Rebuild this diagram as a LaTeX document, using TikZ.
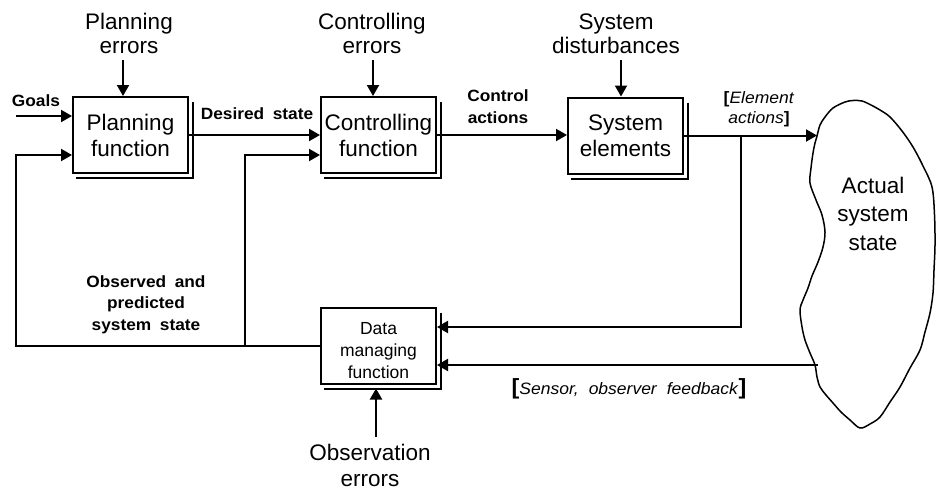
\documentclass[tikz,border=0pt]{standalone}
\usepackage{fontspec}
\setmainfont{Liberation Sans}
\newfontfamily\lblfont[FakeStretch=1.06,WordSpace=1.8]{Liberation Sans}
\usetikzlibrary{arrows.meta,calc}

\begin{document}
\begin{tikzpicture}[x=1pt,y=-1pt,line width=2pt,
  fn/.style={draw,fill=white,minimum width=115pt,minimum height=76pt,inner sep=0pt,
    align=center,font=\fontsize{22.5}{26}\selectfont},
  lbl/.style={align=center,inner sep=0pt,font=\fontsize{22.5}{24}\selectfont},
  tag/.style={align=center,inner sep=0pt,font=\lblfont\fontsize{16.3}{21.5}\selectfont\bfseries},
  note/.style={align=center,inner sep=0pt,font=\lblfont\fontsize{16.5}{20}\selectfont},
  arr/.style={-{Triangle[length=11pt,width=12pt]}}]

\fill[white] (0,0) rectangle (936,493);
\useasboundingbox (0,0) rectangle (936,493);

% function boxes
\node[fn] (plan) at (130.5,135) {Planning\\function};
\node[fn] (ctrl) at (378.5,135) {Controlling\\function};
\node[fn] (sys)  at (625.5,135.5) {System\\elements};
\node[fn,font=\fontsize{17.5}{22}\selectfont] (data) at (378.5,345.5)
  {\rule{0pt}{23pt}Data\\managing\\function};

% double edge on the right and bottom of each box
\foreach \n in {plan,ctrl,sys,data}{
  \draw ([xshift=4pt,yshift=-6pt]\n.north east) -- ([xshift=4pt,yshift=-4pt]\n.south east)
        -- ([xshift=4pt,yshift=-4pt]\n.south west);
}

% disturbance inputs (base = baseline of the last line)
\node[lbl,anchor=base] (perr) at (129,53) {Planning\\errors};
\node[lbl,anchor=base] (cerr) at (372,53) {Controlling\\errors};
\node[lbl,anchor=base] (sdis) at (616,53) {System\\disturbances};
\coordinate (pin) at ([xshift=-7.5pt]plan.north);
\coordinate (cin) at ([xshift=-5.5pt]ctrl.north);
\coordinate (sin) at ([xshift=-4.5pt]sys.north);
\draw[arr] (pin |- perr.south) ++(0,6) -- (pin);
\draw[arr] (cin |- cerr.south) ++(0,6) -- (cin);
\draw[arr] (sin |- sdis.south) ++(0,6) -- (sin);

% goals
\node[tag,anchor=base west] (goals) at (11,106) {Goals};
\coordinate (gsrc) at (16,116);
\draw[arr] (gsrc) -- (gsrc -| plan.west);

% forward path
\node[tag,anchor=base] (dst) at (257,119) {Desired state};
\draw[arr] (plan.east) -- (ctrl.west);
\node[tag,anchor=base] (cact) at (498,123) {Control\\actions};
\draw[arr] (ctrl.east) -- (ctrl.east -| sys.west);
\coordinate (bl) at (817,135.5);
\node[note,anchor=base] (eact) at (759,123)
  {{\bfseries[}\textit{Element}\\\textit{actions}{\bfseries]}};
\draw[arr] (sys.east) -- (bl);

% element actions fed to data managing
\coordinate (br) at (741,135.5);
\coordinate (brd) at (741,327);
\draw[arr] (br) -- (brd) -- (brd -| data.east);

% sensor feedback
\coordinate (sens) at (818,365);
\draw[arr] (sens) -- (sens -| data.east);
\node[note,anchor=base] (sfb) at (629,394)
  {{\fontsize{22}{22}\selectfont\bfseries[}\textit{Sensor,\hspace{10pt}observer\hspace{10pt}feedback}{\fontsize{22}{22}\selectfont\bfseries]}};

% observed state back to planning and controlling
\coordinate (pfb) at ([yshift=-20pt]plan.west);
\coordinate (cfb) at ([yshift=-20pt]ctrl.west);
\coordinate (lx) at (16,0);
\coordinate (mx) at (245,0);
\draw[arr] (data.west) -| (lx |- pfb) -- (pfb);
\draw[arr] (data.west -| mx) -- (mx |- cfb) -- (cfb);
\node[tag,anchor=base] (obs) at (146,330) {Observed and\\predicted\\system state};

% observation errors
\node[lbl,anchor=base,font=\fontsize{22.5}{25.5}\selectfont] (oerr) at (370,486) {Observation\\errors};
\coordinate (oin) at ([xshift=-2.5pt,yshift=-4pt]data.south);
\draw[arr] (oin |- oerr.north) ++(0,-6) -- (oin);

% actual system state
\draw[line width=1.5pt] plot[smooth cycle,tension=0.55] coordinates {
  (817,136) (820,125) (825,117) (833,108) (845,102) (853,100.5) (862,101) (871,105)
  (880,110) (890,117) (902,131) (913,147) (923,166) (932,187) (934.5,215) (935,245)
  (934,270) (933,293) (930,313) (925,332) (920,350) (910,368) (900,387) (890,402)
  (880,417) (870,424) (860,428) (850,420) (841,412) (833,403) (826,395) (820,387)
  (817,377) (815,365) (810,353) (805,340) (802,327) (800,310) (803,300) (808,288)
  (812,276) (818,262) (823,247) (825,232) (822,215) (816,200) (810,183) (811,168)
  (813,153) (815,143)};
\node[lbl,anchor=base,font=\fontsize{22.5}{28.5}\selectfont] (ast) at (873,250) {Actual\\system\\state};

\end{tikzpicture}
\end{document}
